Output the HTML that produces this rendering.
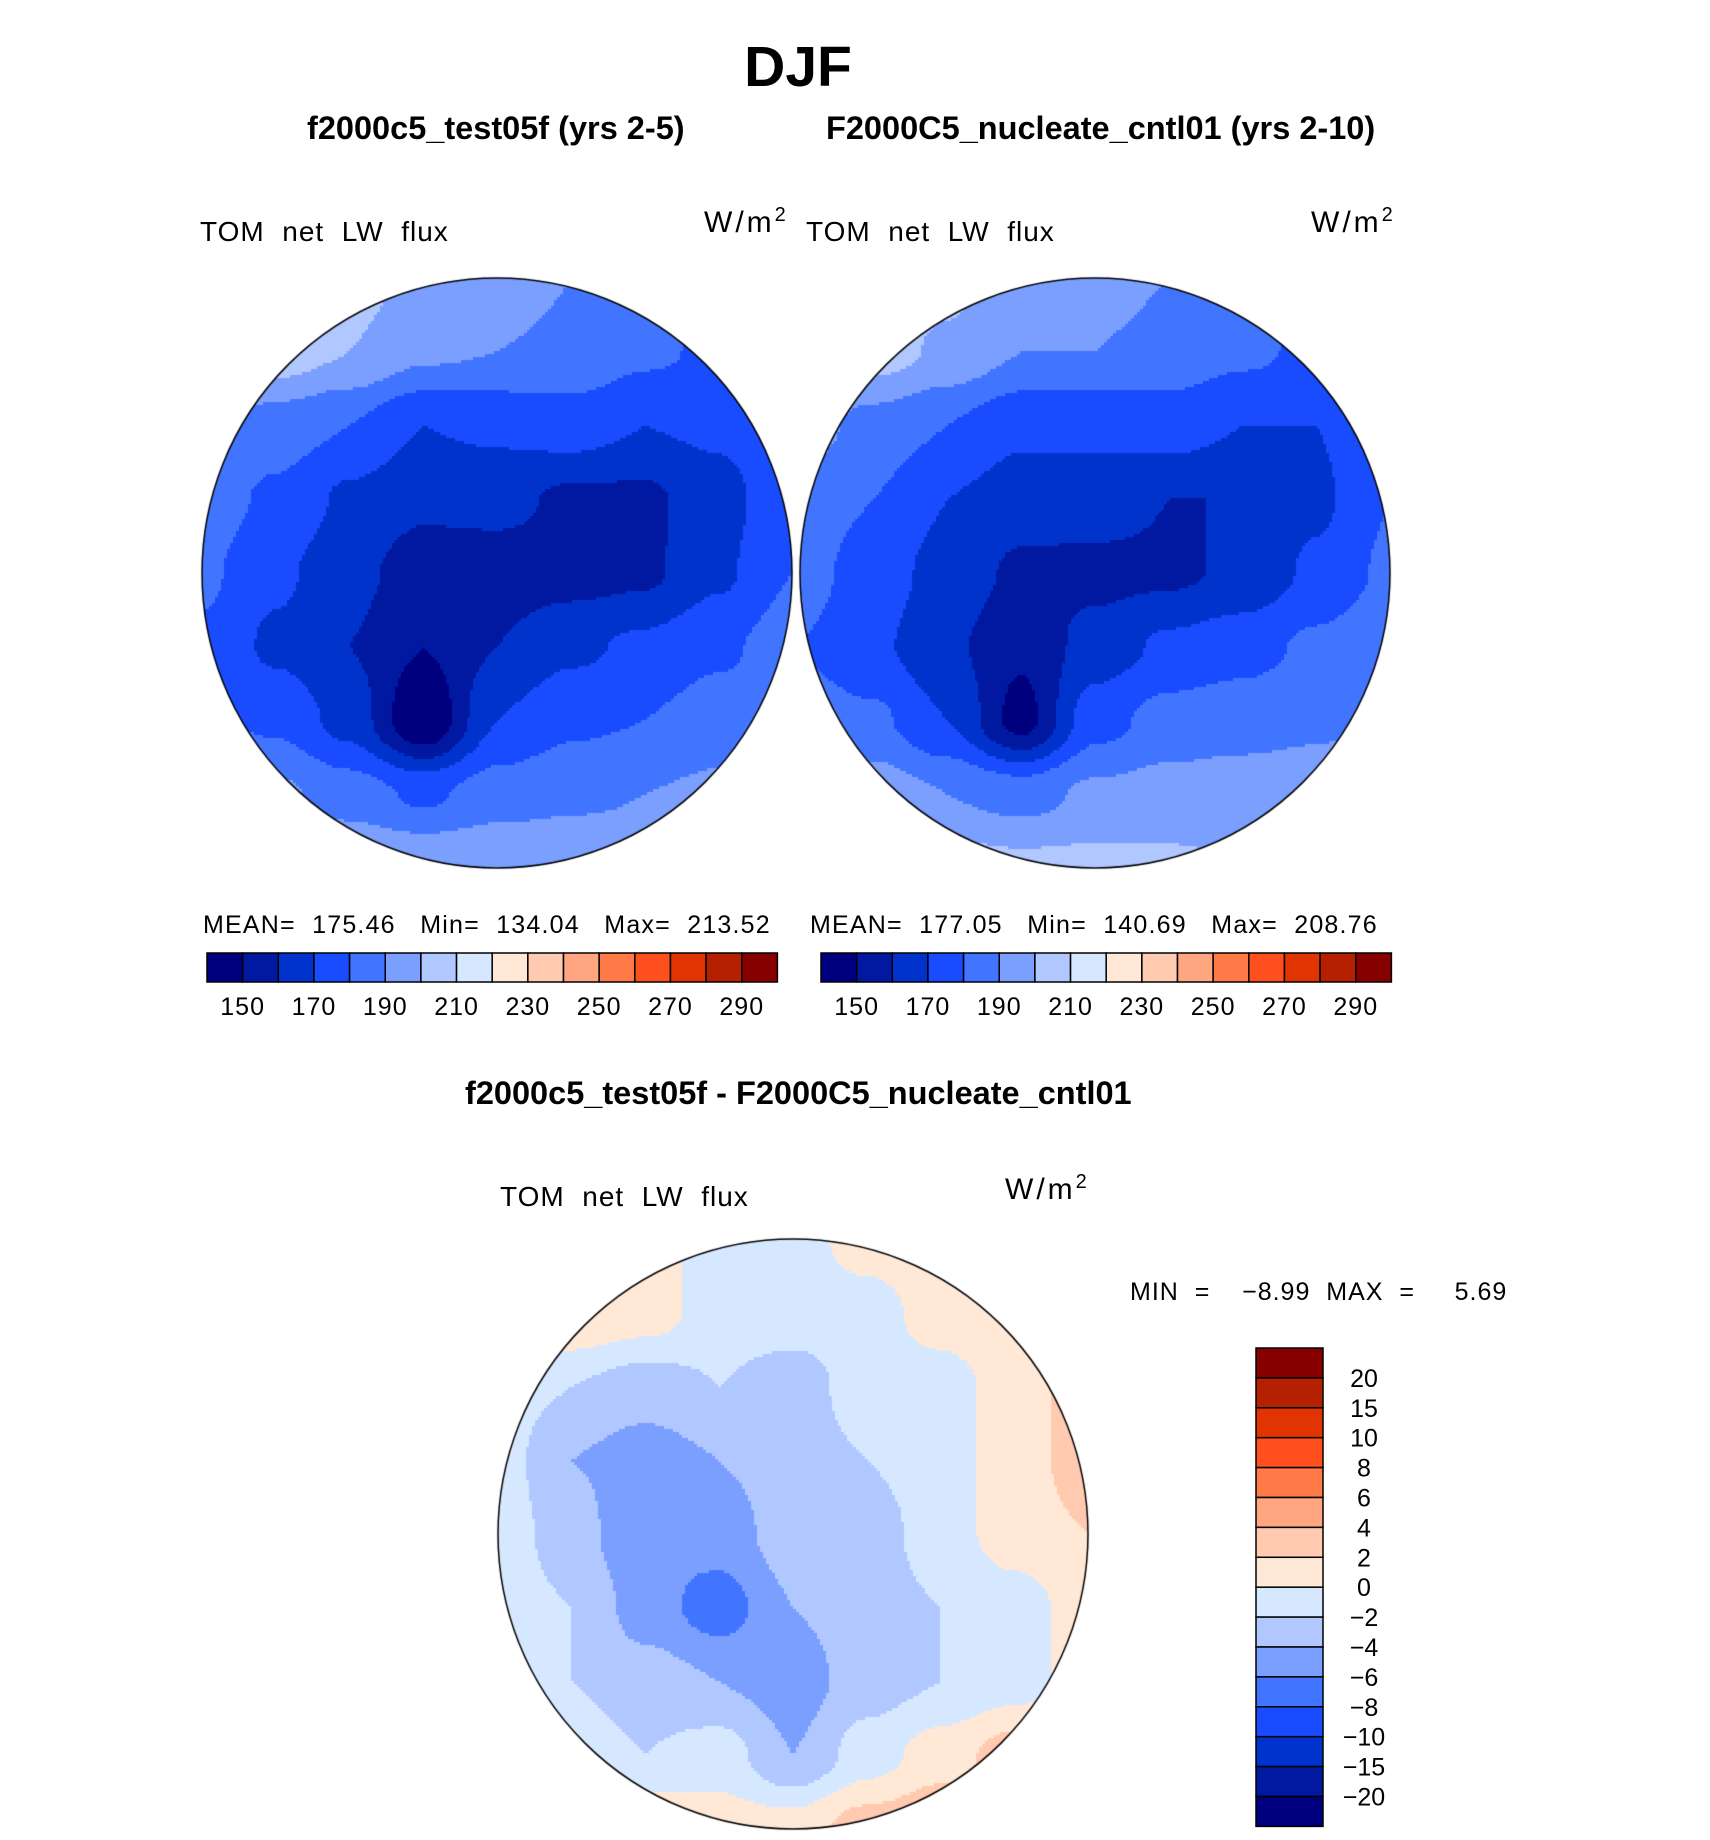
<!DOCTYPE html>
<html><head><meta charset="utf-8">
<style>
html,body{margin:0;padding:0;background:#fff;}
body{width:1710px;height:1840px;position:relative;overflow:hidden;font-family:"Liberation Sans",sans-serif;}
.t{position:absolute;white-space:nowrap;color:#000;}
.b{font-weight:bold;}
canvas{position:absolute;}
</style></head><body>
<div class="t b" style="left:0;width:1596px;text-align:center;top:34px;font-size:57px;">DJF</div>
<div class="t b" style="left:307px;top:110px;font-size:32.5px;">f2000c5_test05f (yrs 2-5)</div>
<div class="t b" style="left:826px;top:110px;font-size:32.5px;">F2000C5_nucleate_cntl01 (yrs 2-10)</div>
<div class="t" style="left:200px;top:216px;font-size:28px;letter-spacing:1px;">TOM&nbsp; net&nbsp; LW&nbsp; flux</div>
<div class="t" style="left:704px;top:204px;font-size:30px;letter-spacing:3px;">W/m<sup style="font-size:20px">2</sup></div>
<div class="t" style="left:806px;top:216px;font-size:28px;letter-spacing:1px;">TOM&nbsp; net&nbsp; LW&nbsp; flux</div>
<div class="t" style="left:1311px;top:204px;font-size:30px;letter-spacing:3px;">W/m<sup style="font-size:20px">2</sup></div>

<canvas id="m1" width="600" height="600" style="left:197px;top:273px"></canvas>
<canvas id="m2" width="600" height="600" style="left:795px;top:273px"></canvas>
<canvas id="m3" width="600" height="600" style="left:493px;top:1234px"></canvas>

<div class="t" style="left:203px;top:911px;font-size:25px;letter-spacing:1.2px;">MEAN=&nbsp; 175.46&nbsp;&nbsp; Min=&nbsp; 134.04&nbsp;&nbsp; Max=&nbsp; 213.52</div>
<div class="t" style="left:810px;top:911px;font-size:25px;letter-spacing:1.2px;">MEAN=&nbsp; 177.05&nbsp;&nbsp; Min=&nbsp; 140.69&nbsp;&nbsp; Max=&nbsp; 208.76</div>
<svg id="cb1" style="position:absolute;left:0;top:0" width="1710" height="1840"></svg>

<div class="t b" style="left:465px;top:1075px;font-size:32.5px;">f2000c5_test05f - F2000C5_nucleate_cntl01</div>
<div class="t" style="left:500px;top:1181px;font-size:28px;letter-spacing:1px;">TOM&nbsp; net&nbsp; LW&nbsp; flux</div>
<div class="t" style="left:1005px;top:1171px;font-size:30px;letter-spacing:3px;">W/m<sup style="font-size:20px">2</sup></div>
<div class="t" style="left:1130px;top:1278px;font-size:25px;letter-spacing:1px;">MIN&nbsp; =&nbsp;&nbsp;&nbsp; −8.99&nbsp; MAX&nbsp; =&nbsp;&nbsp;&nbsp;&nbsp; 5.69</div>

<script>
const colors=["#00007f","#0019a0","#0033cc","#1a4cff","#4275ff","#7a9fff","#b0c8ff","#d6e8ff","#ffe8d6","#ffcab0","#ffa57f","#ff7a46","#ff4f1c","#e03500","#b52000","#870000"];
const absLevels=[140,150,160,170,180,190,200,210,220,230,240,250,260,270,280,290];
const absTicks=["150","170","190","210","230","250","270","290"];
const diffLevels=[-20,-15,-10,-8,-6,-4,-2,0,2,4,6,8,10,15,20];
const diffTicks=["20","15","10","8","6","4","2","0","−2","−4","−6","−8","−10","−15","−20"];
const grid1=[
[210,210,205,196,195,190,190,185,185],
[210,206,200,192,190,188,182,178,182],
[194,185,180,170,172,175,170,172,178],
[185,178,168,162,163,158,158,166,178],
[182,172,163,155,155,156,158,168,180],
[178,168,160,150,160,168,172,178,185],
[182,178,166,140,170,178,180,185,190],
[195,192,185,178,185,188,190,192,195],
[205,205,202,200,200,198,195,195,198]];
const grid2=[
[210,210,203,196,195,190,190,185,185],
[210,205,198,190,190,186,182,178,182],
[195,186,180,172,172,175,170,170,178],
[186,180,170,165,165,160,160,168,180],
[184,175,166,158,157,158,162,172,182],
[180,172,162,152,164,172,176,182,188],
[185,182,170,146,176,184,186,188,192],
[198,196,190,186,192,194,195,196,198],
[208,208,205,203,203,202,200,198,200]];
const grid3=[
[2,2,1,-1,-1,1,2,2,2],
[2,2,1,-1,-1,-1,1,2,3],
[-1,-2,-3,-2,-3,-1,-1,1,3],
[-1,-4,-5,-4,-3,-2,-1,1,3],
[-1,-3,-6,-5,-3,-3,-1,1,2],
[-1,-2,-5,-7,-4,-3,-2,-1,1],
[-1,-2,-3,-4,-5,-3,-2,-1,1],
[1,-1,-2,-1,-4,-1,1,3,3],
[2,2,2,1,1,3,4,4,3]];

function levelIndex(v,bounds){let i=0;while(i<bounds.length&&v>=bounds[i])i++;return i;}
function drawMap(id,grid,bounds){
  const c=document.getElementById(id),ctx=c.getContext('2d');
  const cx=300,cy=300,r=295,n=grid.length-1,step=3;
  ctx.save();ctx.beginPath();ctx.arc(cx,cy,r,0,Math.PI*2);ctx.clip();
  for(let y=0;y<600;y+=step)for(let x=0;x<600;x+=step){
    const gx=(x+step/2-5)/590*n,gy=(y+step/2-5)/590*n;
    const i=Math.max(0,Math.min(n-1,Math.floor(gx))),j=Math.max(0,Math.min(n-1,Math.floor(gy)));
    const fx=Math.max(0,Math.min(1,gx-i)),fy=Math.max(0,Math.min(1,gy-j));
    const sx=fx*fx*(3-2*fx),sy=fy*fy*(3-2*fy);
    const v=(grid[j][i]*(1-sx)+grid[j][i+1]*sx)*(1-sy)+(grid[j+1][i]*(1-sx)+grid[j+1][i+1]*sx)*sy;
    ctx.fillStyle=colors[levelIndex(v,bounds)];ctx.fillRect(x,y,step,step);
  }
  ctx.restore();ctx.beginPath();ctx.arc(cx,cy,r,0,Math.PI*2);ctx.lineWidth=1.5;ctx.strokeStyle="#000";ctx.stroke();
}
drawMap('m1',grid1,absLevels.slice(1));
drawMap('m2',grid2,absLevels.slice(1));
drawMap('m3',grid3,diffLevels);

const NS="http://www.w3.org/2000/svg",svg=document.getElementById('cb1');
function hbar(x0,name){
  const w=35.65;
  colors.forEach((col,k)=>{
    const r=document.createElementNS(NS,'rect');
    r.setAttribute('x',x0+k*w);r.setAttribute('y',953);r.setAttribute('width',w);r.setAttribute('height',29);
    r.setAttribute('fill',col);r.setAttribute('stroke','#000');r.setAttribute('stroke-width','1.5');
    
    
    svg.appendChild(r);
  });
  absTicks.forEach((t,k)=>{
    const tx=document.createElementNS(NS,'text');
    tx.setAttribute('x',x0+(1+2*k)*w);tx.setAttribute('y',1015);tx.setAttribute('text-anchor','middle');
    tx.setAttribute('font-size','25');tx.setAttribute('font-family','Liberation Sans, sans-serif');tx.setAttribute('letter-spacing','1');
    tx.textContent=t;
    
    
    svg.appendChild(tx);
  });
}
hbar(207,'left-colorbar');
hbar(821,'right-colorbar');
const h=29.9;
colors.slice().reverse().forEach((col,k)=>{
  const r=document.createElementNS(NS,'rect');
  r.setAttribute('x',1256);r.setAttribute('y',1348+k*h);r.setAttribute('width',67);r.setAttribute('height',h);
  r.setAttribute('fill',col);r.setAttribute('stroke','#000');r.setAttribute('stroke-width','1.5');
  
  
  svg.appendChild(r);
});
diffTicks.forEach((t,k)=>{
  const tx=document.createElementNS(NS,'text');
  tx.setAttribute('x',1364);tx.setAttribute('y',1348+(k+1)*h+9);tx.setAttribute('text-anchor','middle');
  tx.setAttribute('font-size','25');tx.setAttribute('font-family','Liberation Sans, sans-serif');
  tx.textContent=t;
  
  
  svg.appendChild(tx);
});
</script>
</body></html>
